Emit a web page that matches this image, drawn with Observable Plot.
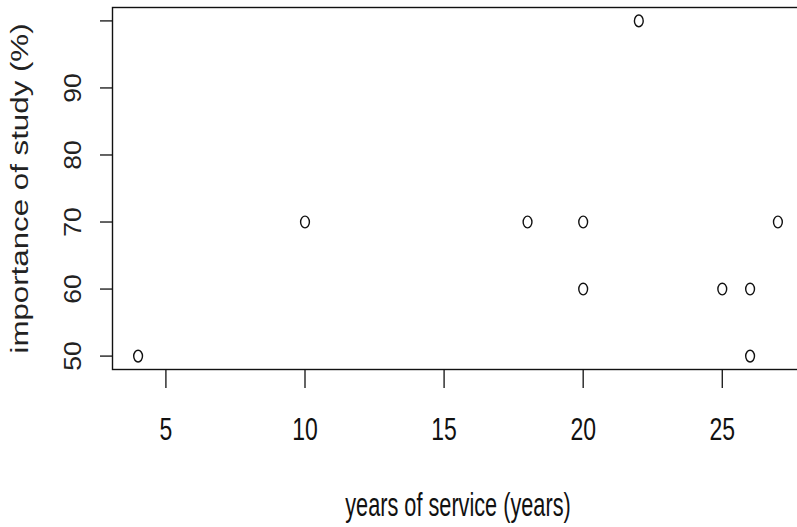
<!DOCTYPE html>
<html><head><meta charset="utf-8">
<script src="https://cdn.jsdelivr.net/npm/d3@7"></script>
<script src="https://cdn.jsdelivr.net/npm/@observablehq/plot@0.6"></script>
<style>html,body{margin:0;padding:0;overflow:hidden;background:#fff} svg{max-width:none !important}</style>
</head><body><div id="chart"></div>
<script>
const years = [4, 10, 18, 20, 20, 22, 25, 26, 26, 27];
const importance = [50, 70, 70, 70, 60, 100, 60, 60, 50, 70];
const xTicks = [5, 10, 15, 20, 25];
const yTicks = [50, 60, 70, 80, 90, 100];
const yTickLabels = [50, 60, 70, 80, 90];
const xTitle = "years of service (years)";
const yTitle = "importance of study (%)";

const points = years.map((x, i) => ({x, y: importance[i]}));
function padded(values) {
  const [a, b] = d3.extent(values);
  const p = (b - a) * 0.04;
  return [a - p, b + p];
}

// open ellipse symbol (R's "o" points look slightly tall in the picture)
const ellipse = {
  draw(ctx, size) {
    const rx = Math.sqrt(size / Math.PI), ry = rx * 1.33, k = 0.5523;
    ctx.moveTo(rx, 0);
    ctx.bezierCurveTo(rx, k * ry, k * rx, ry, 0, ry);
    ctx.bezierCurveTo(-k * rx, ry, -rx, k * ry, -rx, 0);
    ctx.bezierCurveTo(-rx, -k * ry, -k * rx, -ry, 0, -ry);
    ctx.bezierCurveTo(k * rx, -ry, rx, -k * ry, rx, 0);
    ctx.closePath();
  }
};

const ink = "#111";
const svg = Plot.plot({
  width: 803,
  height: 527,
  marginLeft: 112,
  marginRight: 0,
  marginTop: 7,
  marginBottom: 158,
  style: {fontFamily: "'Liberation Sans', Arial, sans-serif", background: "#fff", color: ink, maxWidth: "none"},
  x: {domain: padded(years), axis: null},
  y: {domain: padded(importance), axis: null},
  marks: [
    Plot.frame({stroke: ink, strokeWidth: 1.4}),
    Plot.axisX(xTicks, {tickSize: 19, strokeWidth: 1.3, stroke: ink, tickFormat: () => "", label: null}),
    Plot.axisY(yTicks, {tickSize: 12, strokeWidth: 1.3, stroke: ink, tickFormat: () => "", label: null}),
    Plot.text(xTicks, {x: d => d, text: d => String(d), frameAnchor: "bottom", lineAnchor: "bottom",
      dy: 70, fontSize: 23, fill: ink}),
    Plot.text([xTitle], {text: d => d, frameAnchor: "bottom", lineAnchor: "bottom",
      dy: 146, fontSize: 21.7, fill: ink}),
    Plot.text(yTickLabels, {y: d => d, text: d => String(d), frameAnchor: "left", rotate: -90,
      textAnchor: "middle", lineAnchor: "bottom", dx: -32, fontSize: 23.5, fill: "#222"}),
    Plot.text([yTitle], {text: d => d, frameAnchor: "left", rotate: -90, textAnchor: "middle",
      lineAnchor: "bottom", dx: -85, fontSize: 23, fill: "#222"}),
    Plot.dot(points, {x: "x", y: "y", symbol: ellipse, r: 4.4, stroke: ink, strokeWidth: 1.4, fill: "none"})
  ]
});
svg.style.maxWidth = "none";

function stretchText(t, sx, sy) {
  const tr = t.getAttribute("transform");
  if (tr) {
    t.setAttribute("transform", tr + ` scale(${sx},${sy})`);
  } else {
    const x = +t.getAttribute("x") || 0, y = +t.getAttribute("y") || 0;
    t.removeAttribute("x"); t.removeAttribute("y");
    t.setAttribute("transform", `translate(${x},${y}) scale(${sx},${sy})`);
  }
}
const xLab = new Set(xTicks.map(String)), yLab = new Set(yTickLabels.map(String));
svg.querySelectorAll("text").forEach(t => {
  const s = t.textContent, rot = /rotate/.test(t.getAttribute("transform") || "");
  if (s === xTitle) stretchText(t, 1, 1.5);
  else if (s === yTitle) stretchText(t, 1.36, 1);
  else if (rot && yLab.has(s)) stretchText(t, 1.13, 1);
  else if (!rot && xLab.has(s)) stretchText(t, 1, 1.33);
});

document.getElementById("chart").appendChild(svg);
</script>
</body></html>
